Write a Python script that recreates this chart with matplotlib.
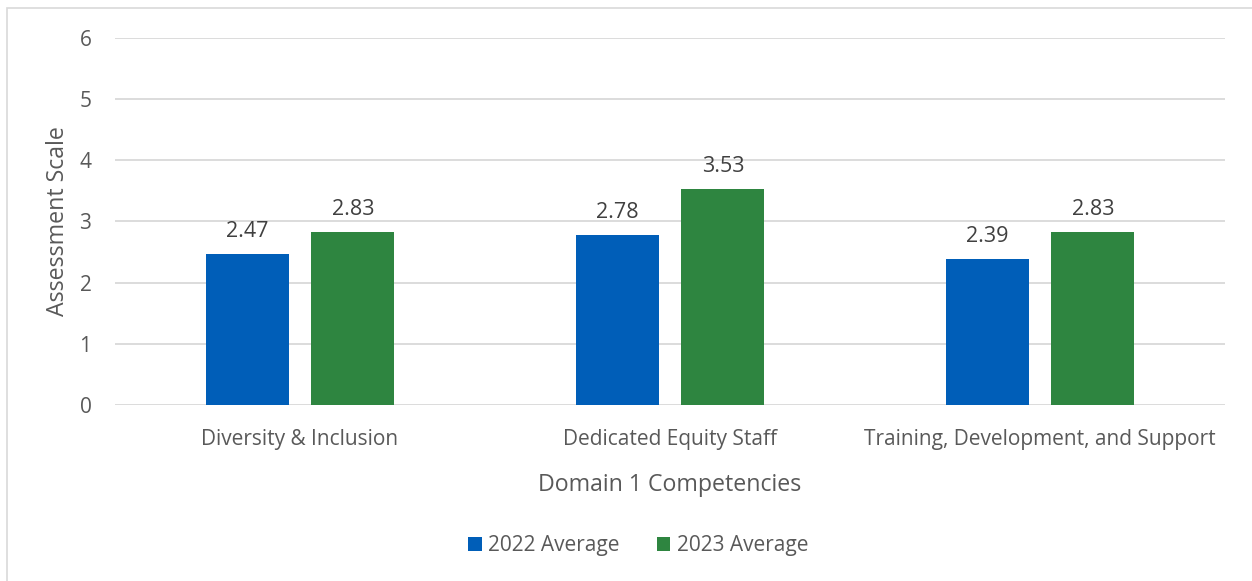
import numpy as np
import matplotlib.pyplot as plt
from matplotlib.patches import Rectangle

categories = ['Diversity & Inclusion', 'Dedicated Equity Staff', 'Training, Development, and Support']
avg_2022 = [2.47, 2.78, 2.39]
avg_2023 = [2.83, 3.53, 2.83]
series_names = ['2022 Average', '2023 Average']
yticks = [0, 1, 2, 3, 4, 5, 6]

plt.rcParams['font.family'] = ['Open Sans', 'DejaVu Sans']
text_col = '#595959'
blue = '#005EB8'
green = '#2E8540'

fig = plt.figure(figsize=(12.52, 5.81), dpi=100)
ax = fig.add_axes([115 / 1252, 1 - 405 / 581, 1110 / 1252, 367 / 581])

x = np.arange(len(categories))
w = 0.224
off = 0.143
b1 = ax.bar(x - off, avg_2022, w, color=blue, label=series_names[0], zorder=3)
b2 = ax.bar(x + off, avg_2023, w, color=green, label=series_names[1], zorder=3)

# value labels above bars
for bars in (b1, b2):
    for r in bars:
        ax.annotate(f'{r.get_height():.2f}', (r.get_x() + r.get_width() / 2, r.get_height()),
                    xytext=(0, 8.5), textcoords='offset points', ha='center', va='bottom',
                    fontsize=15.5, color='#404040')

ax.set_xlim(-0.5, 2.5)
ax.set_ylim(0, 6)
ax.set_yticks(yticks)
ax.set_xticks(x)
ax.set_xticklabels(categories)
ax.yaxis.grid(True, color='#D9D9D9', linewidth=1.3, zorder=0)
ax.tick_params(length=0, labelsize=15, labelcolor=text_col)
ax.tick_params(axis='y', pad=17)
ax.tick_params(axis='x', pad=17)
for s in ax.spines.values():
    s.set_visible(False)

ax.set_xlabel('Domain 1 Competencies', fontsize=16.7, color=text_col, labelpad=17)
ax.set_ylabel('Assessment Scale', fontsize=16.7, color=text_col, labelpad=7)

fig.legend(loc='center', bbox_to_anchor=(638 / 1252, 1 - 546 / 581), ncol=2, frameon=False,
           fontsize=15, labelcolor=text_col, handlelength=0.65, handleheight=0.65,
           handletextpad=0.3, columnspacing=1.8)

# chart border (only top and left visible in the crop)
fig.patches.append(Rectangle((7 / 1252, -0.1), 1.2, 1 - 8 / 581 + 0.1, transform=fig.transFigure,
                             fill=False, edgecolor='#D9D9D9', linewidth=1.2))

fig.savefig('out.png', dpi=100)
